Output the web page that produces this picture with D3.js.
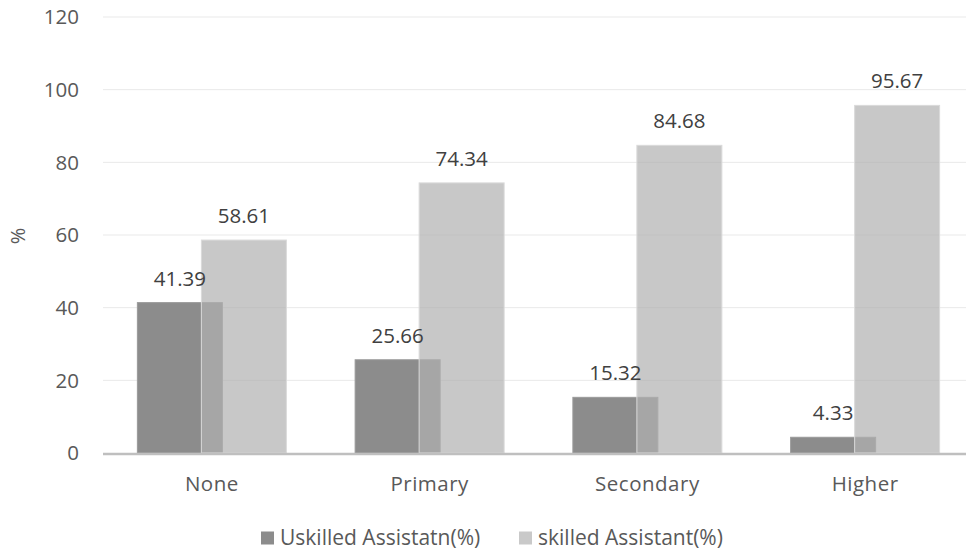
<!DOCTYPE html>
<html>
<head>
<meta charset="utf-8">
<script src="https://cdn.jsdelivr.net/npm/d3@7"></script>
<style>
  body { margin: 0; background: #fff; }
  svg { display: block; font-family: "Open Sans", sans-serif; }
</style>
</head>
<body>
<svg width="966" height="554"></svg>
<script>
// chart data
const categories = ["None", "Primary", "Secondary", "Higher"];
const unskilled = [41.39, 25.66, 15.32, 4.33];
const skilled = [58.61, 74.34, 84.68, 95.67];
const seriesNames = ["Uskilled Assistatn(%)", "skilled Assistant(%)"];
const yTicks = [0, 20, 40, 60, 80, 100, 120];

const svg = d3.select("svg");
const margin = { left: 103, right: -8, top: 17, bottom: 101 };
const width = 966 - margin.left - margin.right;
const height = 554 - margin.top - margin.bottom;

const g = svg.append("g").attr("transform", `translate(${margin.left},${margin.top})`);

const x = d3.scaleBand().domain(categories).range([0, width]);
const y = d3.scaleLinear().domain([0, 120]).range([height, 0]);

const barW = 85;
const shift = 64; // light bar starts this far right of the dark bar

// gridlines
g.selectAll(".grid")
  .data(yTicks.slice(1))
  .enter()
  .append("line")
  .attr("x1", 0)
  .attr("x2", width)
  .attr("y1", (d) => y(d))
  .attr("y2", (d) => y(d))
  .style("stroke", "#e9e9e9")
  .style("stroke-width", 1);

// y tick labels
g.selectAll(".ytick")
  .data(yTicks)
  .enter()
  .append("text")
  .attr("x", -24)
  .attr("y", (d) => y(d))
  .attr("dy", "0.35em")
  .attr("text-anchor", "end")
  .style("font-size", "20.5px")
  .style("fill", "#595959")
  .text((d) => d);

// axis title
svg.append("text")
  .attr("transform", "translate(25,236) rotate(-90)")
  .attr("text-anchor", "middle")
  .style("font-size", "20px")
  .style("fill", "#595959")
  .text("%");

const groupStart = (c) => x(c) + (x.bandwidth() - (barW + shift)) / 2;

// dark bars
g.selectAll(".dark")
  .data(categories)
  .enter()
  .append("rect")
  .attr("x", (c) => groupStart(c))
  .attr("y", (c, i) => y(unskilled[i]))
  .attr("width", barW)
  .attr("height", (c, i) => height - y(unskilled[i]))
  .style("fill", "#8c8c8c")
  .style("stroke", "#9a9a9a")
  .style("stroke-width", 1);

// light bars, drawn over with some transparency
g.selectAll(".light")
  .data(categories)
  .enter()
  .append("rect")
  .attr("x", (c) => groupStart(c) + shift)
  .attr("y", (c, i) => y(skilled[i]))
  .attr("width", barW)
  .attr("height", (c, i) => height - y(skilled[i]))
  .style("fill", "#b1b1b1")
  .style("fill-opacity", 0.7)
  .style("stroke", "#dadada")
  .style("stroke-width", 1);

// value labels
g.selectAll(".lblDark")
  .data(categories)
  .enter()
  .append("text")
  .attr("x", (c) => groupStart(c) + barW / 2)
  .attr("y", (c, i) => y(unskilled[i]) - 17)
  .attr("text-anchor", "middle")
  .style("font-size", "20.5px")
  .style("fill", "#404040")
  .text((c, i) => unskilled[i]);

g.selectAll(".lblLight")
  .data(categories)
  .enter()
  .append("text")
  .attr("x", (c) => groupStart(c) + shift + barW / 2)
  .attr("y", (c, i) => y(skilled[i]) - 17)
  .attr("text-anchor", "middle")
  .style("font-size", "20.5px")
  .style("fill", "#404040")
  .text((c, i) => skilled[i]);

// baseline
g.append("line")
  .attr("x1", 0)
  .attr("x2", width)
  .attr("y1", y(0) + 1)
  .attr("y2", y(0) + 1)
  .style("stroke", "#bfbfbf")
  .style("stroke-width", 2.5);

// category labels
g.selectAll(".cat")
  .data(categories)
  .enter()
  .append("text")
  .attr("x", (c) => x(c) + x.bandwidth() / 2)
  .attr("y", height + 38)
  .attr("text-anchor", "middle")
  .style("font-size", "20.5px")
  .style("letter-spacing", "0.5px")
  .style("fill", "#595959")
  .text((c) => c);

// legend
const legendX = [261, 519];
const legendColors = ["#8c8c8c", "#c9c9c9"];
const legend = svg.selectAll(".legend")
  .data(seriesNames)
  .enter()
  .append("g")
  .attr("transform", (d, i) => `translate(${legendX[i]},538)`);

legend.append("rect")
  .attr("x", 0)
  .attr("y", -6.5)
  .attr("width", 13)
  .attr("height", 13)
  .style("fill", (d, i) => legendColors[i]);

legend.append("text")
  .attr("x", 19)
  .attr("dy", "0.35em")
  .style("font-size", "21px")
  .style("fill", "#595959")
  .text((d) => d);
</script>
</body>
</html>
